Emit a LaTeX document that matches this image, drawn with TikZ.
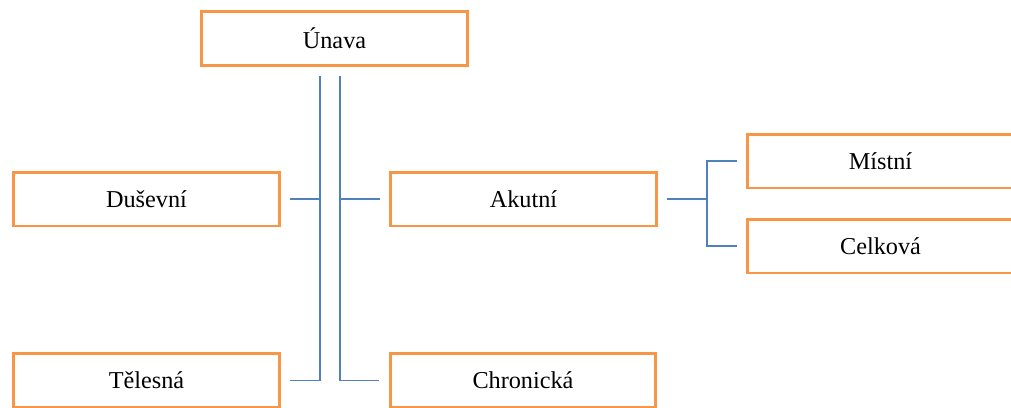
\documentclass[tikz,border=0pt]{standalone}
\usepackage{fontspec}
\setmainfont{Liberation Serif}
\usetikzlibrary{calc}
\definecolor{boxorange}{HTML}{F79646}
\definecolor{linkblue}{HTML}{4F81BD}
\tikzstyle{box}=[draw=boxorange,line width=1.7pt,rectangle,minimum width=5.32cm,minimum height=1.08cm,inner sep=0pt,font=\fontsize{13.8}{16}\selectfont]
\tikzstyle{link}=[draw=linkblue,line width=0.6pt,-]
\newcommand{\gap}{0.19cm}

\begin{document}
\begin{tikzpicture}[x=0.02cm, y=-0.02cm]
    \clip (0,0) rectangle (1011,407);
    % First we draw the boxes
    \foreach \pos/\name/\lbl in {{(334.5,38.5)/unava/Únava}, {(146.5,199)/dus/Duševní}, {(523.5,199)/aku/Akutní},
        {(146.5,380.5)/tel/Tělesná}, {(523,380.5)/chr/Chronická}, {(880.5,161)/mis/Místní}, {(880.5,246)/cel/Celková}}
        \node[box] (\name) at \pos {\lbl};
    % Spine coordinates
    \coordinate (sL) at (320,0);
    \coordinate (sR) at (340,0);
    \coordinate (br) at (707,0);
    % Connect boxes
    \path[link,shorten <=\gap,shorten >=\gap] (unava.south -| sL) -- (tel.east -| sL) -- (tel.east);
    \path[link,shorten <=\gap] (dus.east) -- (dus.east -| sL);
    \path[link,shorten <=\gap,shorten >=\gap] (unava.south -| sR) -- (chr.west -| sR) -- (chr.west);
    \path[link,shorten >=\gap] (aku.west -| sR) -- (aku.west);
    \path[link,shorten <=\gap] (aku.east) -- (aku.east -| br);
    \path[link,shorten <=\gap,shorten >=\gap] (mis.west) -- (mis.west -| br) -- (cel.west -| br) -- (cel.west);
\end{tikzpicture}
\end{document}
